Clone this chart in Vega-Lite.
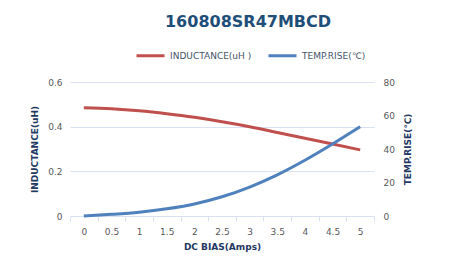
{
  "$schema": "https://vega.github.io/schema/vega-lite/v6.json",
  "width": 304,
  "height": 134,
  "autosize": "none",
  "padding": {"left": 70, "top": 82, "right": 83, "bottom": 57},
  "background": "white",
  "title": {
    "text": "160808SR47MBCD",
    "fontSize": 16,
    "fontWeight": "bold",
    "font": "DejaVu Sans",
    "color": "#1F4E79",
    "anchor": "middle",
    "dx": 26,
    "offset": 10
  },
  "data": {
    "values": [
      {"a": 0, "ind": 0.485, "temp": 0},
      {"a": 0.5, "ind": 0.48, "temp": 1},
      {"a": 1, "ind": 0.471, "temp": 2.3},
      {"a": 1.5, "ind": 0.458, "temp": 4.3},
      {"a": 2, "ind": 0.442, "temp": 7.2},
      {"a": 2.5, "ind": 0.422, "temp": 11.5},
      {"a": 3, "ind": 0.4, "temp": 17.3},
      {"a": 3.5, "ind": 0.374, "temp": 24.6},
      {"a": 4, "ind": 0.348, "temp": 33.3},
      {"a": 4.5, "ind": 0.322, "temp": 43},
      {"a": 5, "ind": 0.296, "temp": 53.3}
    ]
  },
  "encoding": {
    "x": {
      "field": "a",
      "type": "ordinal",
      "scale": {"type": "band", "paddingInner": 0, "paddingOuter": 0},
      "bandPosition": 0.5,
      "axis": {
        "title": "DC BIAS(Amps)",
        "labelAngle": 0,
        "tickBand": "extent",
        "domainColor": "#D9E1F2",
        "tickColor": "#D9E1F2",
        "tickSize": 5,
        "labelColor": "#595959",
        "labelFontSize": 9,
        "labelFont": "DejaVu Sans",
        "labelPadding": 6,
        "titleColor": "#1F3864",
        "titleFontSize": 9,
        "titleFont": "DejaVu Sans",
        "titleFontWeight": "bold",
        "titlePadding": 6
      }
    }
  },
  "layer": [
    {
      "mark": {"type": "line", "interpolate": "monotone", "strokeWidth": 3},
      "encoding": {
        "y": {
          "field": "ind",
          "type": "quantitative",
          "scale": {"domain": [0, 0.6], "nice": false},
          "axis": {
            "title": "INDUCTANCE(uH)",
            "values": [0, 0.2, 0.4, 0.6],
            "format": "~g",
            "domain": false,
            "ticks": false,
            "gridColor": "#D9E1F2",
            "labelColor": "#595959",
            "labelFontSize": 9,
            "labelFont": "DejaVu Sans",
            "labelPadding": 8,
            "titleColor": "#1F3864",
            "titleFontSize": 9,
            "titleFont": "DejaVu Sans",
            "titleFontWeight": "bold",
            "titlePadding": 8
          }
        },
        "color": {"datum": "INDUCTANCE(uH )"}
      }
    },
    {
      "mark": {"type": "line", "interpolate": "monotone", "strokeWidth": 3},
      "encoding": {
        "y": {
          "field": "temp",
          "type": "quantitative",
          "scale": {"domain": [0, 80], "nice": false},
          "axis": {
            "title": "TEMP.RISE(℃)",
            "orient": "right",
            "values": [0, 20, 40, 60, 80],
            "grid": false,
            "domain": false,
            "ticks": false,
            "labelColor": "#595959",
            "labelFontSize": 9,
            "labelFont": "DejaVu Sans",
            "labelPadding": 9,
            "titleColor": "#1F3864",
            "titleFontSize": 9,
            "titleFont": "DejaVu Sans",
            "titleFontWeight": "bold",
            "titleAngle": 270,
            "titleX": 33,
            "titleY": 67,
            "titleAlign": "center",
            "titleBaseline": "middle"
          }
        },
        "color": {"datum": "TEMP.RISE(℃)"}
      }
    }
  ],
  "resolve": {"scale": {"y": "independent"}},
  "config": {
    "view": {"stroke": null},
    "range": {"category": ["#C0504D", "#4F81BD"]},
    "legend": {
      "orient": "none",
      "legendX": 65,
      "legendY": -42,
      "direction": "horizontal",
      "title": null,
      "symbolType": "stroke",
      "symbolSize": 784,
      "symbolStrokeWidth": 3,
      "labelFontSize": 9,
      "labelFont": "DejaVu Sans",
      "labelColor": "#44546A",
      "columnPadding": 10,
      "labelOffset": 4
    }
  }
}
